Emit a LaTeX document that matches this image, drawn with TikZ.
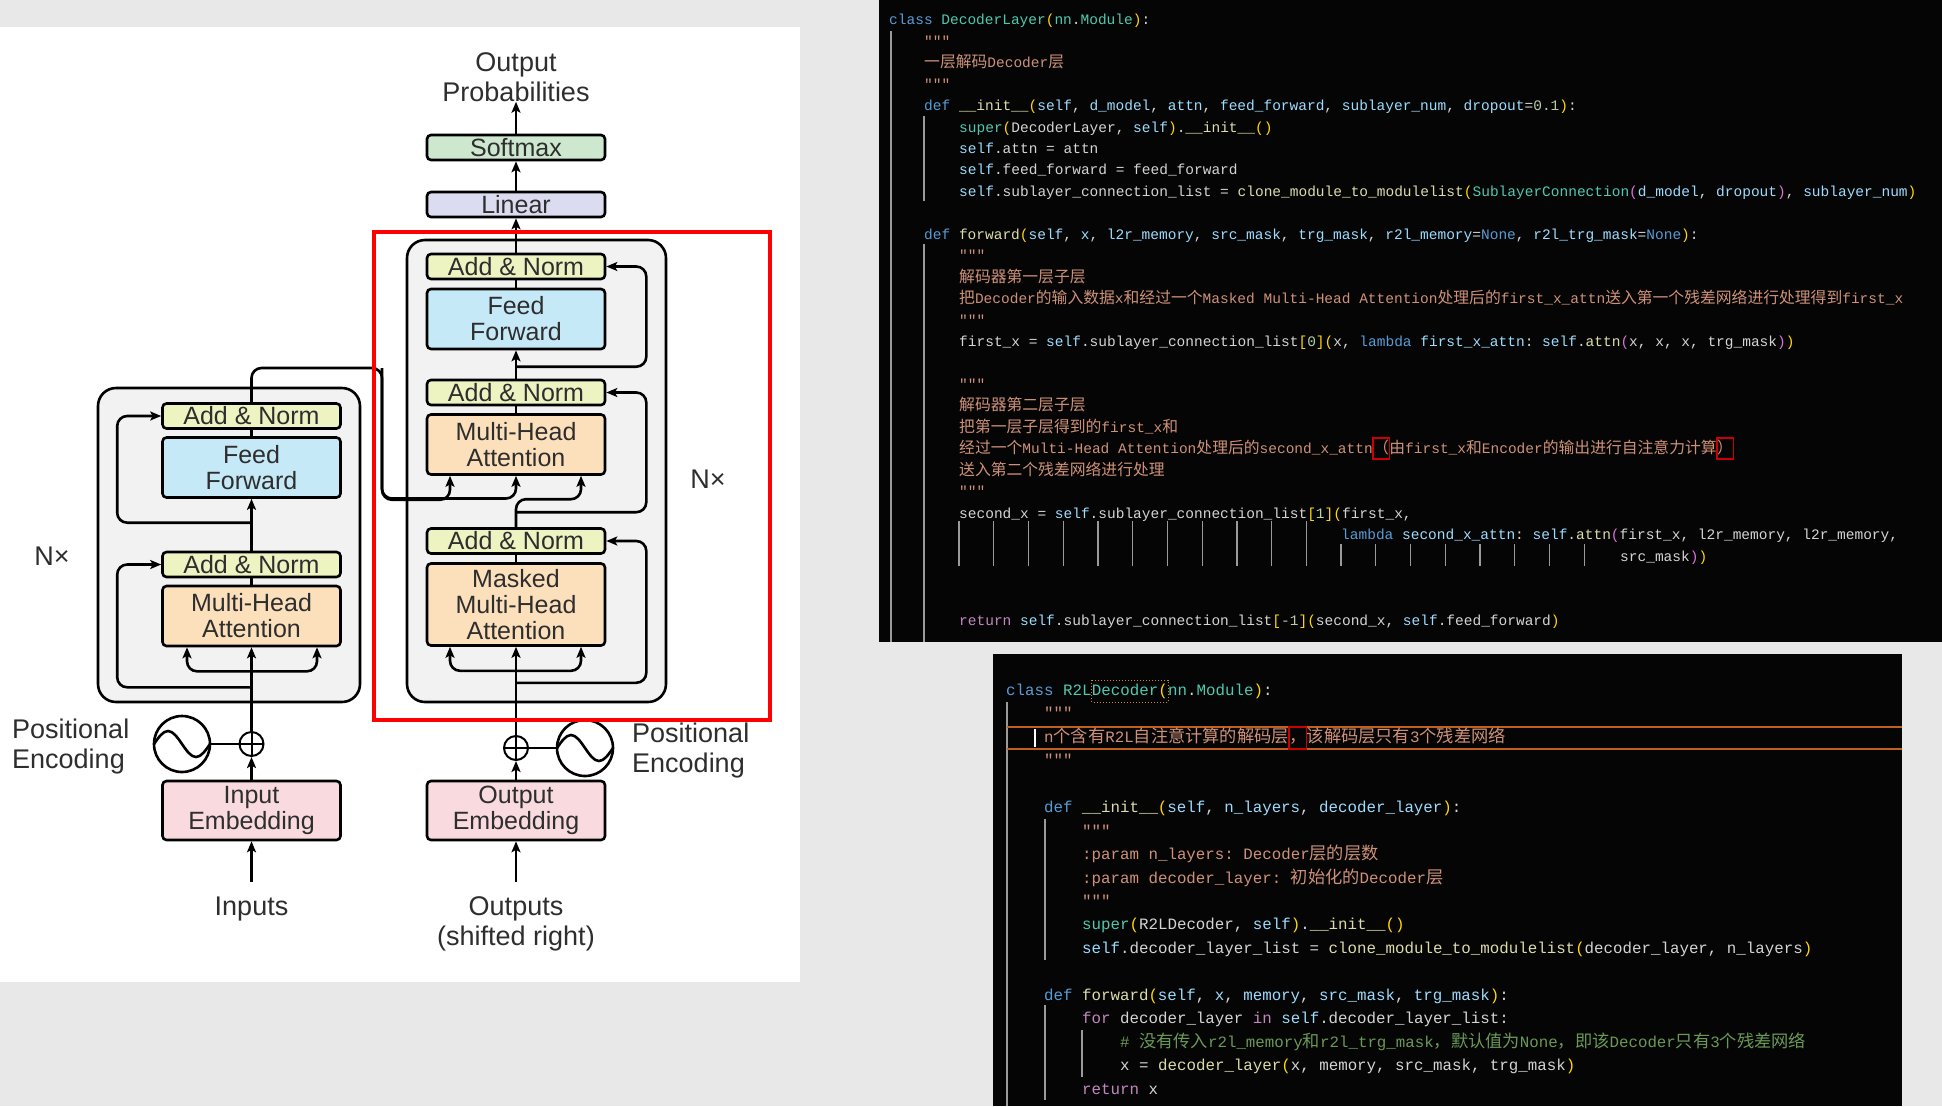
\documentclass[tikz,border=0pt]{standalone}
\usepackage{fontspec}
\setmonofont{Liberation Mono}
\newfontfamily\diafont{Liberation Sans}
\newfontfamily\zhfont{Noto Sans CJK SC}[Scale=1.09]
\usetikzlibrary{arrows.meta,calc}

% page and panel colours
\definecolor{pageGray}{HTML}{E8E8E8}
\definecolor{codeBg}{HTML}{050505}
% diagram colours
\definecolor{diaText}{HTML}{2E2E2E}
\definecolor{anFill}{HTML}{EEF3C2}
\definecolor{ffFill}{HTML}{C5E9F7}
\definecolor{attFill}{HTML}{FCE0BC}
\definecolor{embFill}{HTML}{F9DADF}
\definecolor{smFill}{HTML}{CDE8CF}
\definecolor{linFill}{HTML}{DCDCF0}
\definecolor{layerFill}{HTML}{F2F2F2}
% code colours
\definecolor{cTxt}{HTML}{D4D4D4}
\definecolor{cKw}{HTML}{569CD6}
\definecolor{cCls}{HTML}{4EC9B0}
\definecolor{cFun}{HTML}{DCDCAA}
\definecolor{cVar}{HTML}{9CDCFE}
\definecolor{cStr}{HTML}{CE9178}
\definecolor{cNum}{HTML}{B5CEA8}
\definecolor{cCtl}{HTML}{C586C0}
\definecolor{cCmt}{HTML}{6A9955}
\definecolor{cBrA}{HTML}{FFD700}
\definecolor{cBrB}{HTML}{DA70D6}
\definecolor{guideGray}{HTML}{9A9A9A}
\definecolor{bandLine}{HTML}{C0601C}
\definecolor{dotLine}{HTML}{C8853A}

\newcommand\zh[1]{{\zhfont #1}}
\newcommand\synK[1]{\textcolor{cKw}{#1}}
\newcommand\synC[1]{\textcolor{cCls}{#1}}
\newcommand\synF[1]{\textcolor{cFun}{#1}}
\newcommand\synV[1]{\textcolor{cVar}{#1}}
\newcommand\synN[1]{\textcolor{cNum}{#1}}
\newcommand\synP[1]{\textcolor{cCtl}{#1}}
\newcommand\brA[1]{\textcolor{cBrA}{#1}}
\newcommand\brB[1]{\textcolor{cBrB}{#1}}

\begin{document}
\begin{tikzpicture}[
  x=1pt, y=-1pt,
  blk/.style={draw=black, line width=2.6pt, rounded corners=4pt, minimum width=178pt, align=center, inner sep=0pt, text=diaText, font=\diafont\fontsize{25}{26}\selectfont},
  an/.style={blk, fill=anFill, minimum height=25pt},
  ffw/.style={blk, fill=ffFill, minimum height=60pt},
  att/.style={blk, fill=attFill, minimum height=60pt},
  emb/.style={blk, fill=embFill, minimum height=59pt},
  lbl/.style={inner sep=0pt, align=center, text=diaText, font=\diafont\fontsize{27}{30}\selectfont},
  layer/.style={draw=black, line width=2.6pt, rounded corners=18pt, fill=layerFill},
  wire/.style={line width=2.6pt, rounded corners=10pt},
  arr/.style={wire, -{Stealth[length=11pt, width=9pt, inset=2.5pt]}},
  plus/.style={circle, draw=black, line width=2pt, minimum size=24pt, inner sep=0pt, fill=white,
    path picture={\draw[line width=2pt] (path picture bounding box.north) -- (path picture bounding box.south)
      (path picture bounding box.west) -- (path picture bounding box.east);}},
  wave/.style={circle, draw=black, line width=2.6pt, minimum size=56pt, inner sep=0pt, fill=white,
    path picture={\draw[line width=2.6pt] ([xshift=-28pt]path picture bounding box.center)
      sin ++(14,-13) cos ++(14,13) sin ++(14,13) cos ++(14,-13);}},
  redframe/.style={draw=red, line width=4pt},
  codeT/.style={anchor=base west, inner sep=0pt, text=cTxt, font=\ttfamily\fontsize{14.5}{17}\selectfont\frenchspacing},
  codeB/.style={codeT, font=\ttfamily\fontsize{15.8}{19}\selectfont\frenchspacing},
  docT/.style={codeT, text=cStr},
  docB/.style={codeB, text=cStr},
  guide/.style={draw=guideGray, line width=1.2pt},
  redmark/.style={draw=red!80!black, line width=1.2pt},
  dotbox/.style={draw=dotLine, line width=1pt, dotted},
  band/.style={draw=bandLine, line width=2pt},
]

% ================= page and panels =================
\useasboundingbox (0,0) rectangle (1942,1106);
\fill[pageGray] (0,0) rectangle (1942,1106);
\fill[white] (0,27) rectangle (800,982);
\fill[codeBg] (879,0) rectangle (1942,642);
\fill[codeBg] (993,654) rectangle (1902,1106);

% ================= transformer diagram =================
\node[layer, minimum width=262pt, minimum height=314pt] (encLayer) at (229,545) {};
\node[layer, minimum width=259pt, minimum height=462pt] (decLayer) at (536.5,471) {};

% encoder
\node[an] (eAN2) at (251.5,416) {Add \& Norm};
\node[ffw] (eFF) at (251.5,467.5) {Feed\\Forward};
\node[an] (eAN1) at (251.5,564.5) {Add \& Norm};
\node[att] (eMHA) at (251.5,616) {Multi-Head\\Attention};
\node[emb] (eEmb) at (251.5,810.5) {Input\\Embedding};
\node[plus] (ePlus) at (251.5,744) {};
\node[wave] (eSine) at (182,744) {};
\node[lbl, align=left, anchor=west] (ePosLbl) at (12,747) {Positional\\Encoding};
\node[lbl] (inputs) at (251.5,909) {Inputs};
\node[lbl] (eNx) at (52,556) {N×};

% decoder
\node[lbl] (outprob) at (516,77) {Output\\Probabilities};
\node[blk, fill=smFill, minimum height=25pt] (softmax) at (516,147.5) {Softmax};
\node[blk, fill=linFill, minimum height=25pt] (linear) at (516,204.5) {Linear};
\node[an] (dAN3) at (516,266.5) {Add \& Norm};
\node[ffw] (dFF) at (516,319) {Feed\\Forward};
\node[an] (dAN2) at (516,392.5) {Add \& Norm};
\node[att] (dMHA) at (516,444.5) {Multi-Head\\Attention};
\node[an] (dAN1) at (516,541) {Add \& Norm};
\node[att, minimum height=82pt] (dMMHA) at (516,604.5) {Masked\\Multi-Head\\Attention};
\node[emb] (dEmb) at (516,810.5) {Output\\Embedding};
\node[plus] (dPlus) at (516,748) {};
\node[wave] (dSine) at (585,748) {};
\node[lbl, align=left, anchor=west] (dPosLbl) at (632,751) {Positional\\Encoding};
\node[lbl] (outputs) at (516,924) {Outputs\\(shifted right)};
\node[lbl] (dNx) at (708,479) {N×};

% branch points
\coordinate (eSplit) at ($(eMHA.south)+(0,24)$);
\coordinate (eRes1) at ($(eMHA.south)+(0,40)$);
\coordinate (eRes2) at ($(eAN1.north)+(0,-28)$);
\coordinate (eMHAk) at ($(eMHA.south)+(-64.5,0)$);
\coordinate (eMHAq) at ($(eMHA.south)+(65.5,0)$);
\coordinate (dSplit) at ($(dMMHA.south)+(0,24)$);
\coordinate (dRes1) at ($(dMMHA.south)+(0,36)$);
\coordinate (dRes2) at ($(dAN1.north)+(0,-15)$);
\coordinate (dRes3) at ($(dAN2.north)+(0,-12)$);
\coordinate (dMMk) at ($(dMMHA.south)+(-66,0)$);
\coordinate (dMMq) at ($(dMMHA.south)+(65,0)$);
\coordinate (dMHAk) at ($(dMHA.south)+(-66,0)$);
\coordinate (dMHAq) at ($(dMHA.south)+(65,0)$);
\coordinate (eBend) at (382,368);
\coordinate (kvJoin) at (516,498.5);

% encoder wiring
\draw[arr, shorten <=15pt] (inputs) -- (eEmb);
\draw[arr] (eEmb) -- (ePlus);
\draw[wire] (eSine) -- (ePlus);
\draw[arr] (ePlus) -- (eMHA);
\draw[arr] (eSplit) -| (eMHAk);
\draw[arr] (eSplit) -| (eMHAq);
\draw[arr] (eRes1) -| ($(eAN1.west)+(-44,0)$) -- (eAN1.west);
\draw[wire] (eMHA) -- (eAN1);
\draw[arr] (eAN1) -- (eFF);
\draw[arr] (eRes2) -| ($(eAN2.west)+(-44,0)$) -- (eAN2.west);
\draw[wire] (eFF) -- (eAN2);

% decoder wiring
\draw[arr, shorten <=15pt] (outputs) -- (dEmb);
\draw[arr] (dEmb) -- (dPlus);
\draw[wire] (dPlus) -- (dSine);
\draw[arr] (dPlus) -- (dMMHA);
\draw[arr] (dSplit) -| (dMMk);
\draw[arr] (dSplit) -| (dMMq);
\draw[arr] (dRes1) -| ($(dAN1.east)+(40,0)$) -- (dAN1.east);
\draw[wire] (dMMHA) -- (dAN1);
\draw[arr] (dAN1.north) -- ++(0,-28) -| (dMHAq);
\draw[arr] (dRes2) -| ($(dAN2.east)+(40,0)$) -- (dAN2.east);
\draw[arr] (eAN2.north) |- (eBend) |- (kvJoin) -- (dMHA.south);
\draw[arr] (eBend) |- ($(dMHAk)+(0,24)$) -- (dMHAk);
\draw[wire] (dMHA) -- (dAN2);
\draw[arr] (dAN2) -- (dFF);
\draw[arr] (dRes3) -| ($(dAN3.east)+(40,0)$) -- (dAN3.east);
\draw[wire] (dFF) -- (dAN3);
\draw[arr] (dAN3) -- (linear);
\draw[arr] (linear) -- (softmax);
\draw[arr] (softmax) -- (outprob);

% highlight of the decoder layer
\node[redframe, minimum width=396pt, minimum height=488pt] (redBox) at (572,476) {};

% ================= code: DecoderLayer =================
\draw[guide] (891,31) -- (891,642);
\draw[guide] (924,116) -- (924,201);
\draw[guide] (924,244) -- (924,642);
\foreach \i in {0,...,10} \draw[guide] ({959+34.76*\i},521) -- ++(0,45);
\foreach \i in {0,...,7} \draw[guide] ({1341+34.76*\i},544) -- ++(0,22);

\node[codeT] (t0) at (889,24.8) {\synK{class} \synC{DecoderLayer}\brA{(}\synC{nn}.\synC{Module}\brA{)}:};
\node[docT] (t1) at (924,46.25) {"""};
\node[docT] (t2) at (924,67.7) {\zh{一层解码}Decoder\zh{层}};
\node[docT] (t3) at (924,89.15) {"""};
\node[codeT] (t4) at (924,110.6) {\synK{def} \synF{\_\_init\_\_}\brA{(}\synV{self}, \synV{d\_model}, \synV{attn}, \synV{feed\_forward}, \synV{sublayer\_num}, \synV{dropout}=\synN{0.1}\brA{)}:};
\node[codeT] (t5) at (959,132.05) {\synC{super}\brA{(}DecoderLayer, \synV{self}\brA{)}.\synF{\_\_init\_\_}\brA{()}};
\node[codeT] (t6) at (959,153.5) {\synV{self}.attn = attn};
\node[codeT] (t7) at (959,174.95) {\synV{self}.feed\_forward = feed\_forward};
\node[codeT] (t8) at (959,196.4) {\synV{self}.sublayer\_connection\_list = \synF{clone\_module\_to\_modulelist}\brA{(}\synC{SublayerConnection}\brB{(}\synV{d\_model}, \synV{dropout}\brB{)}, \synV{sublayer\_num}\brA{)}};
\node[codeT] (t10) at (924,239.3) {\synK{def} \synF{forward}\brA{(}\synV{self}, \synV{x}, \synV{l2r\_memory}, \synV{src\_mask}, \synV{trg\_mask}, \synV{r2l\_memory}=\synK{None}, \synV{r2l\_trg\_mask}=\synK{None}\brA{)}:};
\node[docT] (t11) at (959,260.75) {"""};
\node[docT] (t12) at (959,282.2) {\zh{解码器第一层子层}};
\node[docT] (t13) at (959,303.65) {\zh{把}Decoder\zh{的输入数据}x\zh{和经过一个}Masked Multi-Head Attention\zh{处理后的}first\_x\_attn\zh{送入第一个残差网络进行处理得到}first\_x};
\node[docT] (t14) at (959,325.1) {"""};
\node[codeT] (t15) at (959,346.55) {first\_x = \synV{self}.sublayer\_connection\_list\brA{[}\synN{0}\brA{]}\brA{(}x, \synK{lambda} \synV{first\_x\_attn}: \synV{self}.\synF{attn}\brB{(}x, x, x, trg\_mask\brB{)}\brA{)}};
\node[docT] (t17) at (959,389.45) {"""};
\node[docT] (t18) at (959,410.9) {\zh{解码器第二层子层}};
\node[docT] (t19) at (959,432.35) {\zh{把第一层子层得到的}first\_x\zh{和}};
\node[docT] (t20a) at (959,453.8) {\zh{经过一个}Multi-Head Attention\zh{处理后的}second\_x\_attn};
\node[docT] (t20b) at (t20a.base east) {\zh{（}};
\node[docT] (t20c) at (t20b.base east) {\zh{由}first\_x\zh{和}Encoder\zh{的输出进行自注意力计算}};
\node[docT] (t20d) at (t20c.base east) {\zh{）}};
\node[docT] (t21) at (959,475.25) {\zh{送入第二个残差网络进行处理}};
\node[docT] (t22) at (959,496.7) {"""};
\node[codeT] (t23) at (959,518.15) {second\_x = \synV{self}.sublayer\_connection\_list\brA{[}\synN{1}\brA{]}\brA{(}first\_x,};
\node[codeT] (t24) at (1341,539.6) {\synK{lambda} \synV{second\_x\_attn}: \synV{self}.\synF{attn}\brB{(}first\_x, l2r\_memory, l2r\_memory,};
\node[codeT] (t25) at (1620,561.05) {src\_mask\brB{)}\brA{)}};
\node[codeT] (t28) at (959,625.4) {\synP{return} \synV{self}.sublayer\_connection\_list\brA{[}\synN{-1}\brA{]}\brA{(}second\_x, \synV{self}.feed\_forward\brA{)}};

\draw[redmark] (t20b.west |- 0,438) rectangle (t20b.east |- 0,459);
\draw[redmark] (t20d.west |- 0,438) rectangle (t20d.east |- 0,459);

% ================= code: R2LDecoder =================
\draw[guide] (1007,702) -- (1007,1106);
\draw[guide] (1045,819) -- (1045,960);
\draw[guide] (1045,1005) -- (1045,1100);
\draw[guide] (1082,1030) -- (1082,1077);
\draw[band] (1007,726.5) -- (1902,726.5);
\draw[band] (1007,748.5) -- (1902,748.5);
\draw[white, line width=2.5pt] (1035,729) -- (1035,747);

\node[codeB] (b0a) at (1006,695.3) {\synK{class} \synC{R2L}};
\node[codeB] (b0b) at (b0a.base east) {\synC{Decoder}\brA{(}};
\node[codeB] (b0c) at (b0b.base east) {\synC{nn}.\synC{Module}\brA{)}:};
\node[docB] (b1) at (1044,718.76) {"""};
\node[docB] (b2a) at (1044,742.2) {n\zh{个含有}R2L\zh{自注意计算的解码层}};
\node[docB] (b2b) at (b2a.base east) {\zh{，}};
\node[docB] (b2c) at (b2b.base east) {\zh{该解码层只有}3\zh{个残差网络}};
\node[docB] (b3) at (1044,765.7) {"""};
\node[codeB] (b5) at (1044,812.6) {\synK{def} \synF{\_\_init\_\_}\brA{(}\synV{self}, \synV{n\_layers}, \synV{decoder\_layer}\brA{)}:};
\node[docB] (b6) at (1082,836.1) {"""};
\node[docB] (b7) at (1082,859.5) {:param n\_layers: Decoder\zh{层的层数}};
\node[docB] (b8) at (1082,883.0) {:param decoder\_layer: \zh{初始化的}Decoder\zh{层}};
\node[docB] (b9) at (1082,906.4) {"""};
\node[codeB] (b10) at (1082,929.9) {\synC{super}\brA{(}R2LDecoder, \synV{self}\brA{)}.\synF{\_\_init\_\_}\brA{()}};
\node[codeB] (b11) at (1082,953.4) {\synV{self}.decoder\_layer\_list = \synF{clone\_module\_to\_modulelist}\brA{(}decoder\_layer, n\_layers\brA{)}};
\node[codeB] (b13) at (1044,1000.3) {\synK{def} \synF{forward}\brA{(}\synV{self}, \synV{x}, \synV{memory}, \synV{src\_mask}, \synV{trg\_mask}\brA{)}:};
\node[codeB] (b14) at (1082,1023.7) {\synP{for} decoder\_layer \synP{in} \synV{self}.decoder\_layer\_list:};
\node[codeB, text=cCmt] (b15) at (1120,1047.2) {\# \zh{没有传入}r2l\_memory\zh{和}r2l\_trg\_mask\zh{，默认值为}None\zh{，即该}Decoder\zh{只有}3\zh{个残差网络}};
\node[codeB] (b16) at (1120,1070.7) {x = \synF{decoder\_layer}\brA{(}x, memory, src\_mask, trg\_mask\brA{)}};
\node[codeB] (b17) at (1082,1094.1) {\synP{return} x};

\draw[dotbox] (b0b.west |- 0,680) rectangle (b0b.east |- 0,702);
\draw[redmark] (b2b.west |- 0,727) rectangle (b2b.east |- 0,749);

\end{tikzpicture}
\end{document}
